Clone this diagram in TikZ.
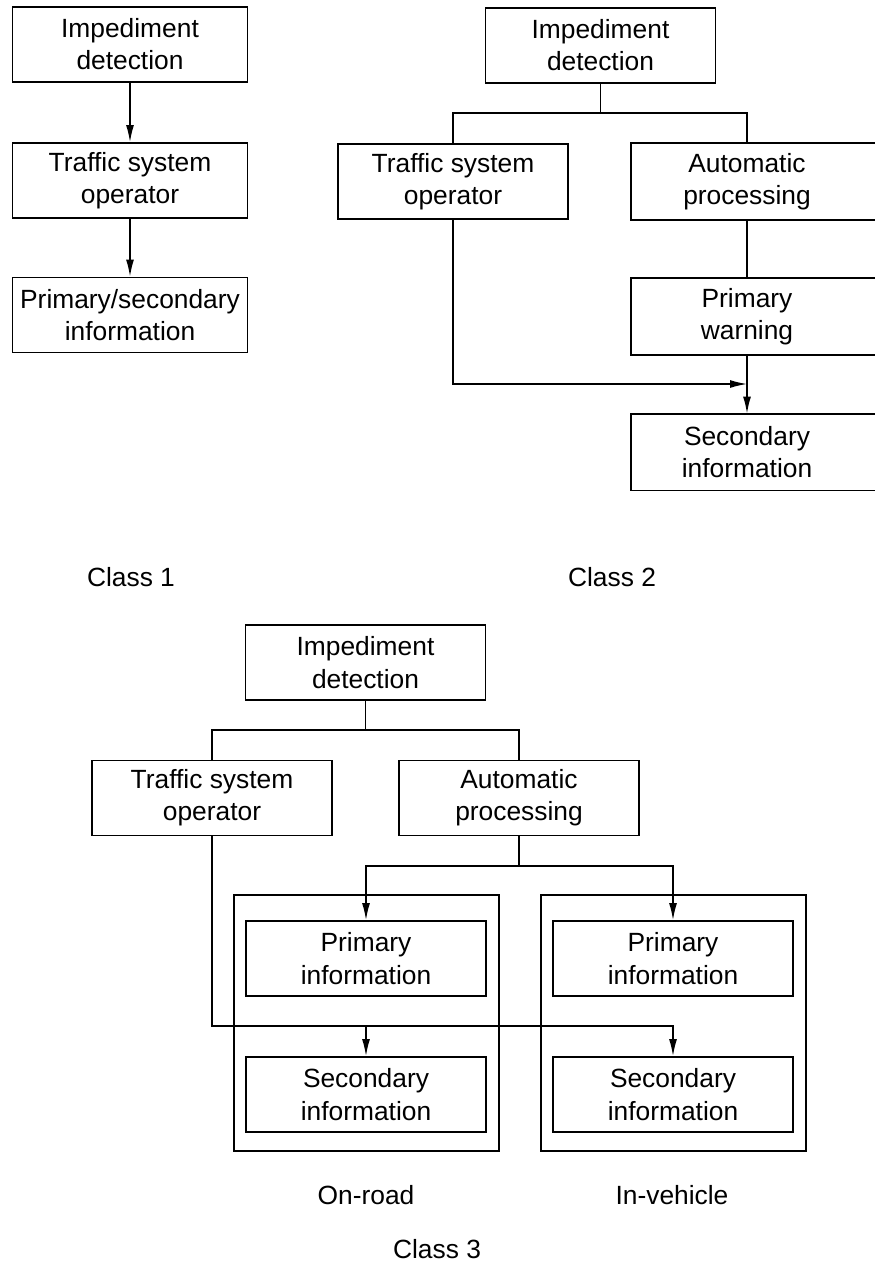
\documentclass[tikz,border=0pt]{standalone}
\usepackage{fontspec}
\setmainfont{Liberation Sans}
\usetikzlibrary{positioning, arrows.meta}

\begin{document}
\begin{tikzpicture}[x=0.02cm, y=-0.02cm,
    caja/.style={draw, line width=1.1pt, minimum width=4.7cm, minimum height=1.5cm,
                 align=center, font=\fontsize{15}{18.3}\selectfont, inner sep=1pt},
    hueco/.style={caja, draw=none},
    linea/.style={line width=0.8pt},
    flecha/.style={linea, -{Latex[length=0.34cm, width=0.16cm]}},
    rotulo/.style={font=\fontsize{15}{18.3}\selectfont}]
  \clip (0,0) rectangle (875,1265);

  % Class 1
  \node[caja] (d1) at (130,44.5) {Impediment\\detection};
  \node[caja] (o1) at (130,180.5) {Traffic system\\operator};
  \node[caja] (i1) at (130,315) {Primary/secondary\\information};
  \draw[flecha] (d1) -- (o1);
  \draw[flecha] (o1) -- (i1);
  \node[rotulo] (k1) at (131,577) {Class 1};

  % Class 2
  \node[caja, minimum width=4.6cm] (d2) at (600.5,45.5) {Impediment\\detection};
  \node[caja, minimum width=4.6cm] (o2) at (453,181.5) {Traffic system\\operator};
  \node[hueco, minimum width=4.6cm] (a2) at (747,181.5) {Automatic\\processing};
  \node[hueco, minimum width=4.6cm] (w2) at (747,316.5) {Primary\\warning};
  \node[hueco, minimum width=4.6cm] (s2) at (747,452) {Secondary\\information};
  \foreach \n in {a2,w2,s2}
    \draw[line width=1.1pt] (\n.north west) rectangle ([shift={(60,0)}]\n.south east);
  \coordinate (r2) at (0,113);
  \coordinate (t2) at (0,384);
  \draw[linea] (d2.south) -- (d2.south |- r2) -| (o2.north);
  \draw[linea] (d2.south |- r2) -| (a2.north);
  \draw[linea] (a2) -- (w2);
  \draw[flecha] (o2.south) |- (w2.south |- t2);
  \draw[flecha] (w2) -- (s2);
  \node[rotulo] (k2) at (612,577) {Class 2};

  % Class 3
  \node[caja, minimum width=4.8cm] (d3) at (365.5,662.5) {Impediment\\detection};
  \node[caja, minimum width=4.8cm] (o3) at (212,798) {Traffic system\\operator};
  \node[caja, minimum width=4.8cm] (a3) at (519,798) {Automatic\\processing};
  \node[caja, minimum width=4.8cm] (rp) at (366,958.5) {Primary\\information};
  \node[caja, minimum width=4.8cm] (rs) at (366,1094.5) {Secondary\\information};
  \node[caja, minimum width=4.8cm] (vp) at (673,958.5) {Primary\\information};
  \node[caja, minimum width=4.8cm] (vs) at (673,1094.5) {Secondary\\information};
  \draw[line width=1.1pt] ([shift={(-11,-25)}]rp.north west) rectangle ([shift={(12,18)}]rs.south east);
  \draw[line width=1.1pt] ([shift={(-11,-25)}]vp.north west) rectangle ([shift={(12,18)}]vs.south east);
  \coordinate (r3) at (0,730);
  \coordinate (p3) at (0,866);
  \coordinate (t3) at (0,1026);
  \draw[linea] (d3.south) -- (d3.south |- r3) -| (o3.north);
  \draw[linea] (d3.south |- r3) -| (a3.north);
  \draw[linea] (a3.south) -- (a3.south |- p3);
  \draw[flecha] (a3.south |- p3) -| (rp.north);
  \draw[flecha] (a3.south |- p3) -| (vp.north);
  \draw[flecha] (o3.south) -- (o3.south |- t3) -| (vs.north);
  \draw[flecha] (rs.north |- t3) -- (rs.north);
  \node[rotulo] (ro) at (366,1195) {On-road};
  \node[rotulo] (iv) at (672,1195) {In-vehicle};
  \node[rotulo] (k3) at (437,1249) {Class 3};
\end{tikzpicture}
\end{document}
